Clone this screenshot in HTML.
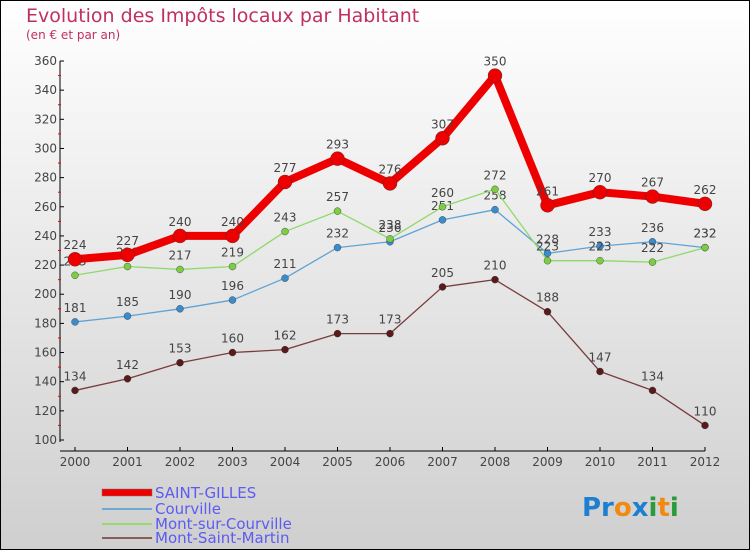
<!DOCTYPE html>
<html><head><meta charset="utf-8"><style>
body{margin:0}
svg{display:block;font-family:"DejaVu Sans","Liberation Sans",sans-serif}
</style></head><body>
<svg width="750" height="550" viewBox="0 0 750 550">
<defs><linearGradient id="bg" x1="0" y1="0" x2="0" y2="1"><stop offset="0" stop-color="#ffffff"/><stop offset="1" stop-color="#cfcfcf"/></linearGradient></defs>
<rect x="0.5" y="0.5" width="749" height="549" fill="url(#bg)" stroke="#000"/>
<text x="26" y="22" font-size="19" fill="#c0305e">Evolution des Impôts locaux par Habitant</text>
<text x="26" y="39" font-size="12" fill="#c0305e">(en € et par an)</text>
<g id="axes"></g>
<g id="series"></g>
<g>
<rect x="102" y="489" width="50" height="7" fill="#e00" stroke="#777" stroke-width="0.5"/>
<text x="155" y="498" font-size="15" fill="#5c5cf0">SAINT-GILLES</text>
<line x1="102" y1="509" x2="152" y2="509" stroke="#6fa8d0" stroke-width="2"/>
<text x="155" y="514" font-size="15" fill="#5c5cf0">Courville</text>
<line x1="102" y1="524" x2="152" y2="524" stroke="#94dc6e" stroke-width="2"/>
<text x="155" y="529" font-size="15" fill="#5c5cf0">Mont-sur-Courville</text>
<line x1="102" y1="538" x2="152" y2="538" stroke="#8b5a5a" stroke-width="2"/>
<text x="155" y="543" font-size="15" fill="#5c5cf0">Mont-Saint-Martin</text>
</g>
<text x="582" y="516" font-size="26" font-weight="bold"><tspan fill="#1e7fd0">Pr</tspan><tspan fill="#f08a10">o</tspan><tspan fill="#1e7fd0">x</tspan><tspan fill="#2a9a3a">i</tspan><tspan fill="#f08a10">t</tspan><tspan fill="#2a9a3a">i</tspan></text>
</svg>
<script>
const years=["2000","2001","2002","2003","2004","2005","2006","2007","2008","2009","2010","2011","2012"];
const yTicks=[100,120,140,160,180,200,220,240,260,280,300,320,340,360];
const saintGilles=[224,227,240,240,277,293,276,307,350,261,270,267,262];
const courville=[181,185,190,196,211,232,236,251,258,228,233,236,232];
const montSur=[213,219,217,219,243,257,238,260,272,223,223,222,232];
const montSaint=[134,142,153,160,162,173,173,205,210,188,147,134,110];
const NS="http://www.w3.org/2000/svg";
const X=i=>75+i*52.5;
const Y=v=>440-(v-100)*(379/260);
function mk(t,a,p){const e=document.createElementNS(NS,t);for(const k in a)e.setAttribute(k,a[k]);p.appendChild(e);return e;}
const ax=document.getElementById('axes');
let l=mk('line',{x1:60,y1:Y(360),x2:60,y2:Y(100)+2,stroke:'#000'},ax);


l=mk('line',{x1:60,y1:451,x2:X(12),y2:451,stroke:'#000'},ax);


yTicks.forEach((v,i)=>{
 mk('line',{x1:60,y1:Y(v),x2:64,y2:Y(v),stroke:'#000'},ax);
 if(i<yTicks.length-1) mk('line',{x1:58,y1:Y(v+10),x2:61,y2:Y(v+10),stroke:'#e00'},ax);
 const t=mk('text',{x:57,y:Y(v)+4,'font-size':12,'text-anchor':'end',fill:'#444'},ax);
 t.textContent=v;
 
 
});
years.forEach((y,i)=>{
 mk('line',{x1:X(i),y1:447,x2:X(i),y2:451,stroke:'#000'},ax);
 const t=mk('text',{x:X(i),y:466,'font-size':12,'text-anchor':'middle',fill:'#444'},ax);
 t.textContent=y;
 
 
});
const sg=document.getElementById('series');
function draw(arr,name,color,w,r,dot){
 const g=mk('g',{},sg);
 
 
 const p=mk('polyline',{points:arr.map((v,i)=>X(i)+','+Y(v)).join(' '),fill:'none',stroke:color,'stroke-width':w,'stroke-linejoin':'round'},g);
 
 
 arr.forEach((v,i)=>{
  const c=mk('circle',{cx:X(i),cy:Y(v),r:r,fill:dot,stroke:'#333','stroke-width':0.4},g);
  
  
  const t=mk('text',{x:X(i),y:Y(v)-10,'font-size':12,'text-anchor':'middle',fill:'#444'},g);
  t.textContent=v;
  
  
 });
}
draw(montSaint,'mont-saint-martin','#7a3b3b',1.3,3.5,'#5a1a1a');
draw(courville,'courville','#5fa3d6',1.3,3.5,'#3a8ccc');
draw(montSur,'mont-sur-courville','#8fd96a',1.3,3.5,'#7ccc44');
draw(saintGilles,'saint-gilles','#ee0000',8,7,'#ee0000');
</script>
</body></html>
